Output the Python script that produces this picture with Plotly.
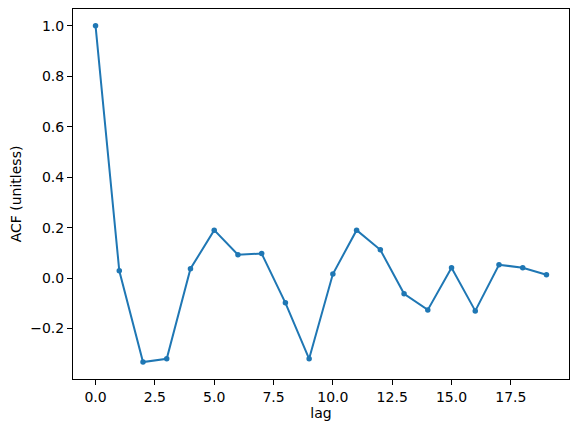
import plotly.graph_objects as go

# autocorrelation values
lags = list(range(20))
acf = [1.0, 0.029, -0.333, -0.320, 0.037, 0.190, 0.093, 0.097, -0.098, -0.320,
       0.016, 0.190, 0.112, -0.062, -0.126, 0.041, -0.130, 0.053, 0.041, 0.013]

x_ticks = [0.0, 2.5, 5.0, 7.5, 10.0, 12.5, 15.0, 17.5]
y_ticks = [-0.2, 0.0, 0.2, 0.4, 0.6, 0.8, 1.0]

fig = go.Figure()
fig.add_trace(go.Scatter(
    x=lags, y=acf, mode="lines+markers",
    line=dict(color="#1f77b4", width=2),
    marker=dict(color="#1f77b4", size=5.5),
    showlegend=False,
))

axis_style = dict(
    showline=True, mirror=True, linecolor="black", linewidth=1,
    showgrid=False, zeroline=False, automargin=False,
    ticks="outside", ticklen=5, tickwidth=1, tickcolor="black",
    tickfont=dict(family="DejaVu Sans", size=14, color="black"),
)

# page body keeps an 8px default margin, so the figure is shrunk by that much
fig.update_layout(
    width=571, height=424,
    margin=dict(l=65, r=10, t=1, b=53),
    plot_bgcolor="white", paper_bgcolor="white",
    font=dict(family="DejaVu Sans", size=14, color="black"),
    xaxis=dict(range=[-0.95, 19.95], tickvals=x_ticks, tickformat=".1f",
               title=dict(text="lag", standoff=4,
                          font=dict(family="DejaVu Sans", size=14)),
               **axis_style),
    yaxis=dict(range=[-0.4, 1.0667], tickvals=y_ticks, tickformat=".1f",
               title=dict(text="ACF (unitless)", standoff=6,
                          font=dict(family="DejaVu Sans", size=14)),
               **axis_style),
)

fig.write_html("out.html")
